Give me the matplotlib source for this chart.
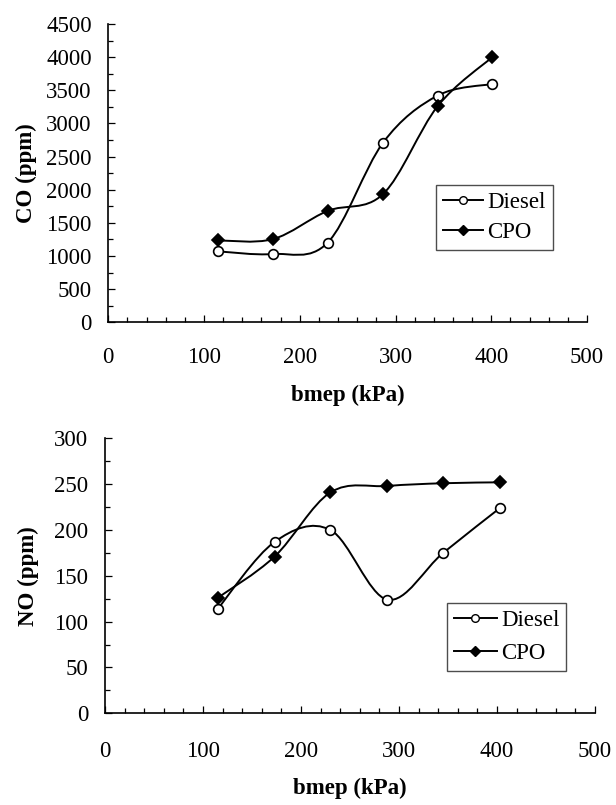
import numpy as np
import matplotlib
matplotlib.use('Agg')
import matplotlib.pyplot as plt
from matplotlib.path import Path
from matplotlib.patches import PathPatch
from matplotlib.lines import Line2D
from matplotlib.ticker import MultipleLocator

plt.rcParams['font.family'] = ['Liberation Serif', 'DejaVu Serif']

# Данные
bmep_co = [115, 172, 229, 287, 344, 401]
co_diesel = [1070, 1030, 1200, 2710, 3420, 3595]
co_cpo = [1235, 1255, 1680, 1935, 3260, 4000]

bmep_no = [115, 173, 230, 288, 345, 403]
no_diesel = [114, 187, 200, 124, 175, 224]
no_cpo = [126, 171, 241, 248, 251, 252]


# Сглаженная линия как в Excel (кривые Безье через точки)
def smooth_path(x, y):
    pts = np.column_stack([x, y]).astype(float)
    n = len(pts)
    verts = [pts[0]]
    codes = [Path.MOVETO]
    for i in range(n - 1):
        p0 = pts[max(i - 1, 0)]
        p1 = pts[i]
        p2 = pts[i + 1]
        p3 = pts[min(i + 2, n - 1)]
        verts += [p1 + (p2 - p0) / 6, p2 - (p3 - p1) / 6, p2]
        codes += [Path.CURVE4] * 3
    return Path(verts, codes)


def draw(ax, x, diesel, cpo, ymax, ystep, yminor, ylabel, ypad_x, xlab_y, ylab_x,
         leg_anchor, hl, ls):
    for y, mk, mfc, ms in [(diesel, 'o', 'white', 7), (cpo, 'D', 'black', 5.8)]:
        ax.add_patch(PathPatch(smooth_path(x, y), fill=False, lw=1.4, color='black', zorder=2))
        ax.plot(x, y, linestyle='none', marker=mk, mfc=mfc, mec='black', mew=1.2, ms=ms, zorder=3)
    ax.set_xlim(0, 500)
    ax.set_ylim(0, ymax)
    ax.xaxis.set_major_locator(MultipleLocator(100))
    ax.xaxis.set_minor_locator(MultipleLocator(20))
    ax.yaxis.set_major_locator(MultipleLocator(ystep))
    ax.yaxis.set_minor_locator(MultipleLocator(yminor))
    ax.spines['top'].set_visible(False)
    ax.spines['right'].set_visible(False)
    for s in ['left', 'bottom']:
        ax.spines[s].set_linewidth(1.2)
    ax.tick_params(which='both', direction='in', labelsize=16.5, width=0.9)
    ax.tick_params(which='major', length=5)
    ax.tick_params(which='minor', length=3.6)
    ax.tick_params(axis='x', which='major', pad=ypad_x)
    ax.tick_params(axis='y', which='major', pad=12)
    ax.set_xlabel('bmep (kPa)', fontsize=16.5, fontweight='bold')
    ax.set_ylabel(ylabel, fontsize=16.5, fontweight='bold')
    ax.xaxis.set_label_coords(0.5, xlab_y)
    ax.yaxis.set_label_coords(ylab_x, 0.5)
    handles = [
        Line2D([], [], color='black', lw=1.4, marker='o', mfc='white', mec='black', ms=5.5),
        Line2D([], [], color='black', lw=1.4, marker='D', mfc='black', mec='black', ms=5),
    ]
    leg = ax.legend(handles, ['Diesel', 'CPO'], loc='upper left', bbox_to_anchor=leg_anchor,
                    borderaxespad=0, fontsize=16.5, fancybox=False, framealpha=1,
                    edgecolor='0.3', handlelength=hl, handletextpad=0.2,
                    borderpad=0.3, labelspacing=ls)
    leg.get_frame().set_linewidth(1.0)


fig = plt.figure(figsize=(6.16, 8.05), dpi=100)
ax1 = fig.add_axes([0.1758, 0.5996, 0.7771, 0.3706])
ax2 = fig.add_axes([0.1705, 0.1139, 0.7955, 0.3416])

draw(ax1, bmep_co, co_diesel, co_cpo, 4500, 500, 250, 'CO (ppm)', 18, -0.21, -0.148,
     (0.6846, 0.4603), 1.75, 0.4)
draw(ax2, bmep_no, no_diesel, no_cpo, 300, 50, 25, 'NO (ppm)', 20, -0.235, -0.134,
     (0.6986, 0.4022), 1.85, 0.55)

fig.savefig('out.png', dpi=100)
